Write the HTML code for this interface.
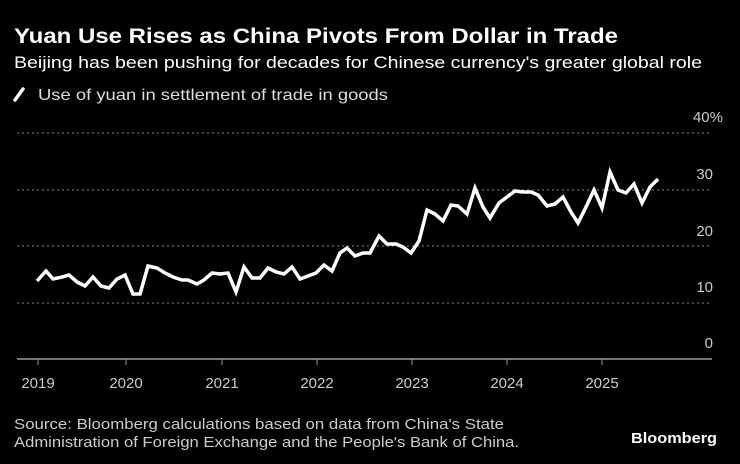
<!DOCTYPE html>
<html><head><meta charset="utf-8"><style>
html,body{margin:0;padding:0;background:#000;}
svg{display:block;}
text{font-family:"Liberation Sans",sans-serif;}
</style></head><body>
<svg width="740" height="464" viewBox="0 0 740 464" xmlns="http://www.w3.org/2000/svg">
<rect width="740" height="464" fill="#000"/>
<text x="14" y="43" font-size="21" font-weight="bold" fill="#fff" textLength="604" lengthAdjust="spacingAndGlyphs">Yuan Use Rises as China Pivots From Dollar in Trade</text>
<text x="14" y="68" font-size="17" fill="#fff" textLength="688" lengthAdjust="spacingAndGlyphs">Beijing has been pushing for decades for Chinese currency's greater global role</text>
<line x1="15" y1="100" x2="23" y2="89" stroke="#fff" stroke-width="3.5" stroke-linecap="round"/>
<text x="38" y="100" font-size="16" fill="#ddd" textLength="350" lengthAdjust="spacingAndGlyphs">Use of yuan in settlement of trade in goods</text>
<g stroke="#888" stroke-width="1" stroke-dasharray="2,3">
<line x1="17" y1="133" x2="712" y2="133"/>
<line x1="17" y1="190" x2="712" y2="190"/>
<line x1="17" y1="246" x2="712" y2="246"/>
<line x1="17" y1="303" x2="712" y2="303"/>
</g>
<line x1="17" y1="359" x2="712" y2="359" stroke="#999" stroke-width="1.5"/>
<g stroke="#999" stroke-width="1">
<line x1="38" y1="359" x2="38" y2="365"/><line x1="126" y1="359" x2="126" y2="365"/><line x1="222" y1="359" x2="222" y2="365"/><line x1="317" y1="359" x2="317" y2="365"/><line x1="412" y1="359" x2="412" y2="365"/><line x1="507" y1="359" x2="507" y2="365"/><line x1="602" y1="359" x2="602" y2="365"/>
</g>
<g font-size="15" fill="#ccc" text-anchor="end">
<text x="723" y="122">40%</text><text x="713" y="179">30</text><text x="713" y="236">20</text><text x="713" y="292">10</text><text x="713" y="348">0</text>
</g>
<g font-size="15" fill="#ccc" text-anchor="middle">
<text x="38" y="388">2019</text><text x="126" y="388">2020</text><text x="222" y="388">2021</text><text x="317" y="388">2022</text><text x="412" y="388">2023</text><text x="507" y="388">2024</text><text x="602" y="388">2025</text>
</g>
<polyline fill="none" stroke="#fff" stroke-width="3.5" stroke-linejoin="miter" points="37,281 46,271 53,279 62,277 69,275 77,282 85,286 93,277 101,286 109,288 117,279 125,275 133,294 140,294 148,266 157,268 165,273 173,277 182,280 188,280 197,284 204,280 212,273 220,274 228,273 236,292 244,267 252,278 260,278 268,268 276,272 284,274 292,267 300,279 308,276 316,273 324,265 332,271 340,253 347,248 355,256 363,253 370,253 379,236 387,244 396,244 403,247 411,253 419,241 427,210 435,214 443,221 451,205 458,206 467,214 475,188 483,207 490,218 499,203 507,197 515,191 523,192 531,192 538,195 547,206 555,204 563,197 571,212 578,223 586,207 594,190 602,208 610,172 618,190 626,193 634,184 642,203 650,187 658,179"/>
<text x="14" y="429" font-size="15" fill="#ccc" textLength="490" lengthAdjust="spacingAndGlyphs">Source: Bloomberg calculations based on data from China's State</text>
<text x="14" y="447" font-size="15" fill="#ccc" textLength="505" lengthAdjust="spacingAndGlyphs">Administration of Foreign Exchange and the People's Bank of China.</text>
<text x="631" y="443" font-size="15" font-weight="bold" fill="#fff" textLength="86" lengthAdjust="spacingAndGlyphs">Bloomberg</text>
</svg>
</body></html>
